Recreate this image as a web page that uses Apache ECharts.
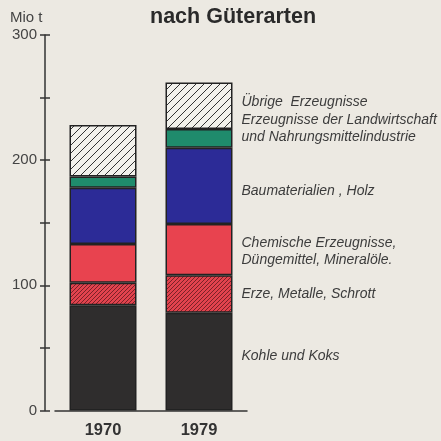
<!DOCTYPE html>
<html><head><meta charset="utf-8">
<script src="https://cdn.jsdelivr.net/npm/echarts@6/dist/echarts.min.js"></script>
<style>html,body{margin:0;padding:0;background:#ece9e2}#c{width:441px;height:441px}</style>
</head><body><div id="c"></div>
<script>
var categories = ['1970', '1979'];
var seriesNames = ['Kohle und Koks', 'Erze, Metalle, Schrott', 'Chemische Erzeugnisse,\nDüngemittel, Mineralöle.', 'Baumaterialien , Holz', 'Erzeugnisse der Landwirtschaft\nund Nahrungsmittelindustrie', 'Übrige  Erzeugnisse'];
var kohle = [84, 78];
var erze = [18, 30];
var chemie = [31, 41];
var bau = [45, 61];
var landw = [9, 15];
var uebrige = [41, 37];
var yTicks = [0, 100, 200, 300];

function hatch(bg, fg, s, lw) {
  var c = document.createElement('canvas');
  c.width = s; c.height = s;
  var g = c.getContext('2d');
  g.fillStyle = bg; g.fillRect(0, 0, s, s);
  g.strokeStyle = fg; g.lineWidth = lw;
  g.beginPath();
  g.moveTo(0, s); g.lineTo(s, 0);
  g.moveTo(-s/2, s/2); g.lineTo(s/2, -s/2);
  g.moveTo(s/2, s*1.5); g.lineTo(s*1.5, s/2);
  g.stroke();
  return c;
}

var fills = [
  '#2f2d2d',
  {image: hatch('#e2434e', '#7a2228', 4, 1), repeat: 'repeat'},
  '#e8434f',
  '#2c2b97',
  '#1f8b6c',
  {image: hatch('#f2f1ec', '#333', 8, 1), repeat: 'repeat'}
];
var values = [kohle, erze, chemie, bau, landw, uebrige];
var offsets = [-6, 0, 2, 5, -10, -4];
var font = 'Liberation Sans, Arial, sans-serif';

var series = values.map(function (vals, i) {
  return {
    type: 'bar',
    stack: 'total',
    barWidth: 67,
    itemStyle: {color: fills[i], borderColor: '#222', borderWidth: 1.5},
    data: vals.map(function (v, j) {
      if (j === 1) {
        return {value: v, label: {show: true, position: 'right', distance: 9, offset: [0, offsets[i]],
          formatter: seriesNames[i], fontStyle: 'italic', fontSize: 14, color: '#3c3c3c', lineHeight: 17,
          fontFamily: font, align: 'left'}};
      }
      return v;
    })
  };
});

var chart = echarts.init(document.getElementById('c'), null, {renderer: 'canvas'});
chart.setOption({
  backgroundColor: '#ece9e2',
  animation: false,
  title: [
    {text: 'nach Güterarten', left: 145, top: 1.5, textStyle: {fontSize: 21.5, fontWeight: 'bold', color: '#2a2a2a', fontFamily: font}},
    {text: 'Mio t', left: 5, top: 5, textStyle: {fontSize: 15, fontWeight: 'normal', color: '#444', fontFamily: font}}
  ],
  grid: {left: 55, top: 35, width: 192, bottom: 30.5},
  xAxis: {
    type: 'category', data: categories,
    axisLine: {lineStyle: {color: '#333', width: 1.5}},
    axisTick: {show: false},
    axisLabel: {margin: 11, fontSize: 16.5, fontWeight: 'bold', color: '#333', fontFamily: font}
  },
  yAxis: [
    {type: 'value', min: 0, max: 300, interval: 50, offset: 10,
      axisLine: {show: true, lineStyle: {color: '#333', width: 1.5}},
      axisTick: {show: true, length: 5, lineStyle: {color: '#333', width: 1.5}},
      splitLine: {show: false},
      axisLabel: {margin: 8, fontSize: 15, color: '#444', fontFamily: font,
        formatter: function (v) { return yTicks.indexOf(v) >= 0 ? String(v) : ''; }}
    },
    {type: 'value', min: 0, max: 300, interval: 50, offset: 10, position: 'left',
      axisLine: {show: false},
      axisTick: {show: true, inside: true, length: 5, lineStyle: {color: '#333', width: 1.5}},
      splitLine: {show: false},
      axisLabel: {show: false}
    }
  ],
  series: series
});
</script></body></html>
